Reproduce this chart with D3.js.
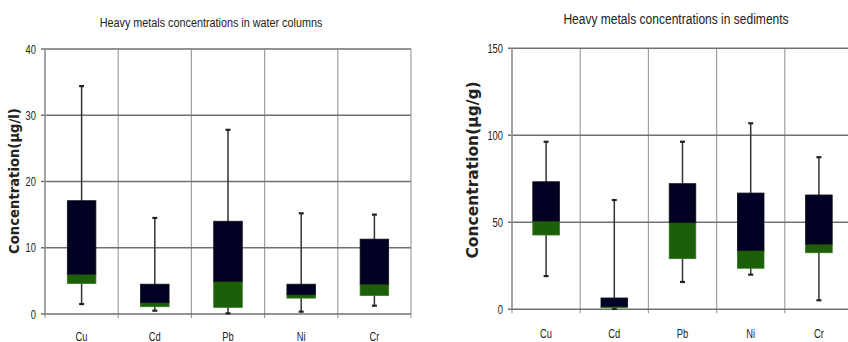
<!DOCTYPE html>
<html>
<head>
<meta charset="utf-8">
<script src="https://cdn.jsdelivr.net/npm/d3@7"></script>
<style>
  body { margin: 0; background: #fff; }
  svg { display: block; }
  .title, .tick-label, .cat-label { font-family: "Liberation Sans", Arial, sans-serif; fill: #222; }
  .ylab { font-family: "DejaVu Sans", Verdana, sans-serif; font-weight: bold; fill: #222; }
</style>
</head>
<body>
<svg width="848" height="342"></svg>
<script>
const metals = ["Cu", "Cd", "Pb", "Ni", "Cr"];

// water columns (µg/l)
const waterMax = [34.4, 14.5, 27.8, 15.2, 15.0];
const waterQ3 = [17.1, 4.5, 14.0, 4.5, 11.3];
const waterMedian = [6.0, 1.7, 4.9, 2.9, 4.5];
const waterQ1 = [4.6, 1.1, 1.0, 2.4, 2.8];
const waterMin = [1.5, 0.5, 0.1, 0.35, 1.25];
const waterTicks = [0, 10, 20, 30, 40];

// sediments (µg/g)
const sedMax = [96.3, 62.8, 96.3, 106.9, 87.4];
const sedQ3 = [73.3, 6.5, 72.2, 66.8, 65.7];
const sedMedian = [50.7, 1.5, 49.8, 33.7, 37.4];
const sedQ1 = [42.7, 0.9, 29.1, 23.6, 32.5];
const sedMin = [19.1, 0.2, 15.7, 19.9, 5.2];
const sedTicks = [0, 50, 100, 150];

const svg = d3.select("svg");
const narrow = 0.72; // the original uses a tall, condensed face

function drawChart(opt) {
  const g = svg.append("g");
  const x = d3.scaleBand().domain(metals).range([opt.x0, opt.x1]);
  const y = d3.scaleLinear().domain([0, opt.ticks[opt.ticks.length - 1]]).range([opt.y0, opt.y1]);

  const rows = metals.map((m, i) => ({
    m, max: opt.max[i], q3: opt.q3[i], med: opt.med[i], q1: opt.q1[i], min: opt.min[i]
  }));

  // vertical grid lines at band edges
  const edges = metals.map(m => x(m)).concat([opt.x1]);
  g.selectAll(".vgrid").data(edges).join("line")
    .attr("x1", d => d).attr("x2", d => d)
    .attr("y1", y.range()[1]).attr("y2", opt.y0 + 4)
    .attr("stroke", "#a0a0a0").attr("stroke-width", 1.2);

  // horizontal grid lines
  g.selectAll(".hgrid").data(opt.ticks).join("line")
    .attr("x1", opt.x0 - 4).attr("x2", opt.x1)
    .attr("y1", d => y(d)).attr("y2", d => y(d))
    .attr("stroke", "#707070").attr("stroke-width", 1.4);

  // left axis line
  g.append("line")
    .attr("x1", opt.x0).attr("x2", opt.x0)
    .attr("y1", y.range()[1]).attr("y2", opt.y0)
    .attr("stroke", "#999").attr("stroke-width", 1.5);

  g.selectAll(".tick-label").data(opt.ticks).join("text")
    .attr("class", "tick-label")
    .attr("transform", d => `translate(${opt.x0 - 9},${y(d)}) scale(${narrow},1)`)
    .attr("dy", "0.35em").attr("text-anchor", "end")
    .attr("font-size", 13)
    .text(d => d);

  g.selectAll(".cat-label").data(metals).join("text")
    .attr("class", "cat-label")
    .attr("transform", d => `translate(${x(d) + x.bandwidth() / 2},${opt.catY}) scale(${narrow},1)`)
    .attr("text-anchor", "middle")
    .attr("font-size", 13)
    .text(d => d);

  const cx = d => x(d.m) + x.bandwidth() / 2;
  const bw = x.bandwidth() * 0.39;

  // whiskers
  g.selectAll(".whisker").data(rows).join("line")
    .attr("x1", cx).attr("x2", cx)
    .attr("y1", d => y(d.max)).attr("y2", d => y(d.min))
    .attr("stroke", "#333").attr("stroke-width", 1.5);
  ["max", "min"].forEach(k => {
    g.selectAll(".cap-" + k).data(rows).join("line")
      .attr("x1", d => cx(d) - 2.5).attr("x2", d => cx(d) + 2.5)
      .attr("y1", d => y(d[k])).attr("y2", d => y(d[k]))
      .attr("stroke", "#222").attr("stroke-width", 2.2);
  });

  // lower box (Q1 to median)
  g.selectAll(".lower").data(rows).join("rect")
    .attr("x", d => cx(d) - bw / 2).attr("width", bw)
    .attr("y", d => y(d.med)).attr("height", d => y(d.q1) - y(d.med))
    .attr("fill", "#1d5e08").attr("stroke", "#2f7a1a").attr("stroke-width", 0.8);

  // upper box (median to Q3)
  g.selectAll(".upper").data(rows).join("rect")
    .attr("x", d => cx(d) - bw / 2).attr("width", bw)
    .attr("y", d => y(d.q3)).attr("height", d => y(d.med) - y(d.q3))
    .attr("fill", "#000024").attr("stroke", "#111").attr("stroke-width", 0.8);

  g.append("text").attr("class", "title")
    .attr("transform", `translate(${opt.titleX},${opt.titleY}) scale(${opt.titleNarrow},1)`)
    .attr("text-anchor", "middle").attr("font-size", opt.titleSize)
    .text(opt.title);

  g.append("text").attr("class", "ylab")
    .attr("transform", `translate(${opt.labX},${opt.labY}) rotate(-90)`)
    .attr("text-anchor", "middle").attr("dy", "0.35em")
    .attr("font-size", opt.labSize)
    .text(opt.ylab);
}

drawChart({
  x0: 45, x1: 411, y0: 314, y1: 49,
  ticks: waterTicks, max: waterMax, q3: waterQ3, med: waterMedian, q1: waterQ1, min: waterMin,
  title: "Heavy metals concentrations in water columns", titleX: 211, titleY: 27, titleSize: 13.5, titleNarrow: 0.8,
  ylab: "Concentration(µg/l)", labX: 14, labY: 181, labSize: 13.2, catY: 341
});

drawChart({
  x0: 512, x1: 853, y0: 309.3, y1: 48.3,
  ticks: sedTicks, max: sedMax, q3: sedQ3, med: sedMedian, q1: sedQ1, min: sedMin,
  title: "Heavy metals concentrations in sediments", titleX: 676, titleY: 24, titleSize: 14.5, titleNarrow: 0.83,
  ylab: "Concentration(µg/g)", labX: 473, labY: 170, labSize: 15.5, catY: 338
});
</script>
</body>
</html>
